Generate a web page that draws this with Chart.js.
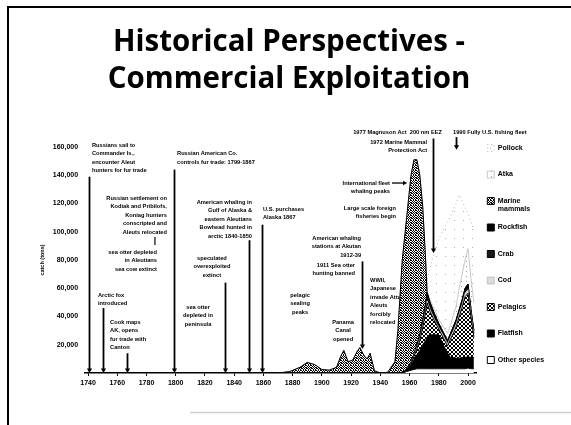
<!DOCTYPE html>
<html><head><meta charset="utf-8">
<script src="https://cdn.jsdelivr.net/npm/chart.js@4"></script>
<style>html,body{margin:0;padding:0;background:#fff;}#wrap{width:571px;height:425px;}</style>
</head><body><div id="wrap"><canvas id="c" width="571" height="425"></canvas></div>
<script>
// ---------- data ----------
const years = [1870,1878,1885,1890,1895,1900,1905,1910,1913,1915,1918,1921,1924,1926,1929,1931,1933,1936,1940,1945,
  1950,1952,1955,1958,1961,1963,1965,1967,1969,1971,1972,1974,1977,1980,1983,1986,1988,1990,1992,1994,1996,1998,2000,2002,2004];
const otherSpecies = [0,0,0,0,0,0,0,0,0,0,0,0,0,0,0,0,0,0,0,0,
  0,0,0,1000,2000,2500,3000,3000,3000,3000,3000,3000,3000,3000,3000,3000,3000,3000,3000,3000,3000,3000,3500,3000,3000];
const flatfish = [0,0,0,0,0,0,0,0,0,0,0,0,0,0,0,0,0,0,0,0,
  0,0,500,1000,4000,7000,10000,13000,17000,20000,22000,24000,24000,24000,17000,11000,8000,8000,7500,7500,8000,8000,8000,8000,8000];
const pelagics = [0,0,0,0,0,0,0,0,0,0,0,0,0,0,0,0,0,0,0,0,
  0,0,0,0,1000,2000,4000,7000,12000,20000,24500,16500,10000,4000,5000,5000,13000,17000,22500,29500,35500,43000,45000,28500,14500];
const cod = [0,0,0,0,0,0,0,0,0,0,0,0,0,0,0,0,0,0,0,0,
  0,0,0,0,0,500,1000,1000,1500,1500,1500,1500,1000,1000,1500,1500,1500,2000,2000,2000,2000,2500,2500,2000,1500];
const crab = [0,0,0,0,0,0,0,0,0,0,0,0,0,0,0,0,0,0,0,0,
  0,0,0,0,500,1000,1500,2000,2500,3000,3000,2500,2000,1500,1000,1000,1000,1000,1000,1000,1000,1000,1000,1000,1000];
const rockfish = [0,0,0,0,0,0,0,0,0,0,0,0,0,0,0,0,0,0,0,0,
  0,0,0,0,0,500,1000,1500,2000,2500,3000,2500,2000,1500,1500,1500,1500,2000,2000,2000,2500,2500,3000,2500,2000];
const marineMammals = [0,1000,4000,7500,6000,2500,2000,4000,12000,16000,8000,9000,15000,18000,12000,10000,14000,1500,0,500,
  8000,30000,79500,108000,132500,137500,130500,112500,80000,30000,0,0,0,0,0,0,0,0,0,0,0,0,0,0,0];
const atka = [0,0,0,0,0,0,0,0,0,0,0,0,0,0,0,0,0,0,0,0,
  0,0,0,0,0,0,0,0,0,0,1000,2000,3000,3000,4000,5000,6000,8000,10000,15000,18000,20000,25000,22000,20000];
const pollock = [0,0,0,0,0,0,0,0,0,0,0,0,0,0,0,0,0,0,0,0,
  0,0,0,0,0,0,0,0,0,0,7000,23000,40000,57000,68000,79000,77000,75000,72000,66000,52000,37000,25000,40000,51000];

const seriesNames = ['Other species','Flatfish','Pelagics','Cod','Crab','Rockfish','Marine mammals','Atka','Pollock'];
const seriesValues = [otherSpecies, flatfish, pelagics, cod, crab, rockfish, marineMammals, atka, pollock];

const xTickValues = [1740,1760,1780,1800,1820,1840,1860,1880,1900,1920,1940,1960,1980,2000];
const yTickValues = [0,20000,40000,60000,80000,100000,120000,140000,160000];
const yTickLabels = ['','20,000','40,000','60,000','80,000','100,000','120,000','140,000','160,000'];

const titleLines = ['Historical Perspectives -','Commercial Exploitation'];
const yAxisTitle = 'catch (tons)';

// historical events: vertical arrows (year, top value, bottom value)
const eventYears   = [1741, 1750, 1767, 1799, 1834, 1850, 1859, 1927.4, 1976.3, 1991.5];
const eventTops    = [139000, 46000, 14000, 144000, 64000, 94000, 105000, 79000, 166000, 167000];
const eventBottoms = [0, 0, 0, 0, 0, 0, 0, 17000, 85000, 158000];

const annotations = [
  {lines:['Russians sail to','Commander Is.,','encounter Aleut','hunters for fur trade'], year:1742.7, value:161400, align:'left'},
  {lines:['Russian American Co.','controls fur trade: 1799-1867'], year:1800.9, value:155100, align:'left'},
  {lines:['Russian settlement on','Kodiak and Pribilofs,','Koniag hunters','conscripted and','Aleuts relocated'], year:1794, value:123900, align:'right'},
  {lines:['sea otter depleted','in Aleutians','sea cow extinct'], year:1787.2, value:85700, align:'right'},
  {lines:['Arctic fox','introduced'], year:1746.8, value:55200, align:'left'},
  {lines:['Cook maps','AK, opens','fur trade with','Canton'], year:1755.1, value:36100, align:'left'},
  {lines:['sea otter','depleted in','peninsula'], year:1815.3, value:46700, align:'center'},
  {lines:['American whaling in','Gulf of Alaska &','eastern Aleutians','Bowhead hunted in','arctic 1840-1850'], year:1852.2, value:121100, align:'right'},
  {lines:['speculated','overexploited','extinct'], year:1824.8, value:81400, align:'center'},
  {lines:['U.S. purchases','Alaska 1867'], year:1859.7, value:116100, align:'left'},
  {lines:['pelagic','sealing','peaks'], year:1885.1, value:55200, align:'center'},
  {lines:['American whaling','stations at Akutan','1912-39'], year:1926.8, value:95600, align:'right'},
  {lines:['1911 Sea otter','hunting banned'], year:1922.7, value:76500, align:'right'},
  {lines:['Panama','Canal','opened'], year:1914.5, value:36100, align:'center'},
  {lines:['WWII,','Japanese','invade Attu,','Aleuts','forcibly','relocated'], year:1933, value:65800, align:'left'},
  {lines:['International fleet','whaling peaks'], year:1946.6, value:134500, align:'right'},
  {lines:['Large scale foreign','fisheries begin'], year:1950.7, value:116800, align:'right'},
  {lines:['1977 Magnuson Act  200 nm EEZ'], year:1982.2, value:170600, align:'right'},
  {lines:['1972 Marine Mammal','Protection Act'], year:1972, value:163500, align:'right'},
  {lines:['1990 Fully U.S. fishing fleet'], year:1989.7, value:170600, align:'left'}
];
const connectorLines = [{year:1785.8, from:96300, to:90600}];
const sideArrows = [{from:1948, to:1958.3, value:134500}];

// ---------- styles ----------
function makePattern(size, bg, cells, ink) {
  const cv = document.createElement('canvas'); cv.width = cv.height = size;
  const g = cv.getContext('2d'); g.fillStyle = bg; g.fillRect(0,0,size,size);
  g.fillStyle = ink; cells.forEach(p => g.fillRect(p[0], p[1], 1, 1));
  return g.createPattern(cv, 'repeat');
}
const stipple = makePattern(5, '#fff', [[0,0],[1,0],[3,0],[2,1],[4,1],[0,2],[1,2],[3,2],[1,3],[2,3],[4,3],[0,4],[3,4]], '#000');
const hatch = makePattern(4, '#fff', [[0,0],[1,1],[2,2],[3,3],[3,0],[2,1],[1,2],[0,3]], '#000');
const sparse = makePattern(9, '#fff', [[4,4]], '#b0b0b0');
const lightDots = makePattern(5, '#fff', [[1,1]], '#999');

const fills   = ['#ffffff', '#000000', hatch, '#dcdcdc', '#1a1a1a', '#000000', stipple, lightDots, sparse];
const borders = ['#000', '#000', '#000', '#bbb', '#000', '#000', '#000', '#bbb', '#b5b5b5'];
const borderW = [1, 1, 1, 0.8, 1, 1, 1, 0.8, 1];
const legendText = {'Marine mammals': ['Marine', 'mammals']};

const datasets = seriesNames.map((name, i) => ({
  label: name,
  data: years.map((yr, k) => ({x: yr, y: seriesValues[i][k]})),
  backgroundColor: fills[i],
  borderColor: borders[i],
  borderWidth: borderW[i],
  borderDash: name === 'Pollock' ? [1, 3] : [],
  fill: i === 0 ? 'origin' : '-1',
  pointRadius: 0,
  tension: 0
}));

// fit title font to reference width
const titleFamily = 'Open Sans';
const mctx = document.createElement('canvas').getContext('2d');
mctx.font = 'bold 100px "' + titleFamily + '"';
const titleSize = 100 * 352 / mctx.measureText(titleLines[0]).width;

const smallFont = {family: 'Liberation Sans', weight: 'bold', size: 7};

const decor = {
  id: 'decor',
  beforeDraw(chart) {
    const c = chart.ctx; c.save();
    c.fillStyle = '#fff'; c.fillRect(0, 0, chart.width, chart.height);
    c.strokeStyle = '#000'; c.lineWidth = 2;
    c.beginPath(); c.moveTo(8, 425); c.lineTo(8, 7); c.lineTo(571, 7); c.stroke();
    c.strokeStyle = '#cfcfcf'; c.lineWidth = 1.5;
    c.beginPath(); c.moveTo(190, 412.5); c.lineTo(571, 412.5); c.stroke();
    c.restore();
  },
  beforeDatasetsDraw(chart) {
    const c = chart.ctx, xs = chart.scales.x, ys = chart.scales.y;
    c.save();
    c.fillStyle = '#000'; c.font = 'bold 5.7px "Liberation Sans"'; c.textBaseline = 'middle';
    annotations.forEach(a => {
      const x = xs.getPixelForValue(a.year), y = ys.getPixelForValue(a.value);
      c.textAlign = a.align;
      a.lines.forEach((t, i) => c.fillText(t, x, y + i * 8.5));
    });
    c.restore();
  },
  afterDatasetsDraw(chart) {
    const c = chart.ctx, xs = chart.scales.x, ys = chart.scales.y;
    c.save();
    c.strokeStyle = '#000'; c.fillStyle = '#000';
    eventYears.forEach((yr, i) => {
      const x = Math.round(xs.getPixelForValue(yr)) + 0.5;
      const y1 = ys.getPixelForValue(eventTops[i]), y2 = ys.getPixelForValue(eventBottoms[i]);
      c.lineWidth = 1.8;
      c.beginPath(); c.moveTo(x, y1); c.lineTo(x, y2 - 3); c.stroke();
      c.beginPath(); c.moveTo(x - 2.6, y2 - 4.5); c.lineTo(x + 2.6, y2 - 4.5); c.lineTo(x, y2); c.closePath(); c.fill();
    });
    connectorLines.forEach(l => {
      const x = xs.getPixelForValue(l.year);
      c.lineWidth = 1.2;
      c.beginPath(); c.moveTo(x, ys.getPixelForValue(l.from)); c.lineTo(x, ys.getPixelForValue(l.to)); c.stroke();
    });
    sideArrows.forEach(a => {
      const x1 = xs.getPixelForValue(a.from), x2 = xs.getPixelForValue(a.to), y = ys.getPixelForValue(a.value);
      c.lineWidth = 1.3;
      c.beginPath(); c.moveTo(x1, y); c.lineTo(x2 - 3, y); c.stroke();
      c.beginPath(); c.moveTo(x2 - 4, y - 2.2); c.lineTo(x2 - 4, y + 2.2); c.lineTo(x2, y); c.closePath(); c.fill();
    });
    c.restore();
  }
};

new Chart(document.getElementById('c'), {
  type: 'line',
  data: {datasets},
  options: {
    responsive: false, animation: false, devicePixelRatio: 1,
    layout: {padding: {top: 8, left: 25.2, right: 18.2, bottom: 0}},
    plugins: {
      title: {
        display: true, text: titleLines, color: '#000',
        font: {family: titleFamily, weight: 'bold', size: titleSize, lineHeight: '37px'},
        padding: {top: 16.5, bottom: 48.5}
      },
      legend: {
        display: true, position: 'right', align: 'start', fullSize: true, reverse: true, maxWidth: 76,
        title: {display: true, text: ' ', font: {size: 10, lineHeight: 1}, padding: {top: 116, bottom: 0}},
        labels: {
          boxWidth: 7, boxHeight: 7, padding: 10.5, color: '#000',
          font: {family: 'Liberation Sans', weight: 'bold', size: 7, lineHeight: '8px'},
          generateLabels(chart) {
            const items = Chart.defaults.plugins.legend.labels.generateLabels(chart);
            items.forEach(it => { it.text = legendText[it.text] || [it.text, '']; });
            return items;
          }
        }
      },
      tooltip: {enabled: false}
    },
    scales: {
      x: {
        type: 'linear', min: 1738, max: 2006,
        afterBuildTicks: s => { s.ticks = xTickValues.map(v => ({value: v})); },
        afterFit: s => { s.height = 52; },
        grid: {display: true, drawOnChartArea: false, drawTicks: true, tickLength: 3, color: '#000', lineWidth: 1},
        border: {display: true, color: '#000', width: 1.5},
        ticks: {color: '#000', font: smallFont, padding: 2.5, maxRotation: 0, autoSkip: false, callback: v => String(v)}
      },
      y: {
        stacked: true, min: 0, max: 160000,
        afterBuildTicks: s => { s.ticks = yTickValues.map(v => ({value: v})); },
        afterFit: s => { s.width = 59.9; },
        grid: {display: false, drawTicks: false},
        border: {display: false},
        ticks: {color: '#000', font: smallFont, padding: 7, callback: (v, i) => yTickLabels[i]},
        title: {display: true, text: yAxisTitle, color: '#000', font: {family: 'Liberation Sans', weight: 'bold', size: 5.5}, padding: {top: 13.5, bottom: 0}}
      }
    }
  },
  plugins: [decor]
});
</script>
</body></html>
